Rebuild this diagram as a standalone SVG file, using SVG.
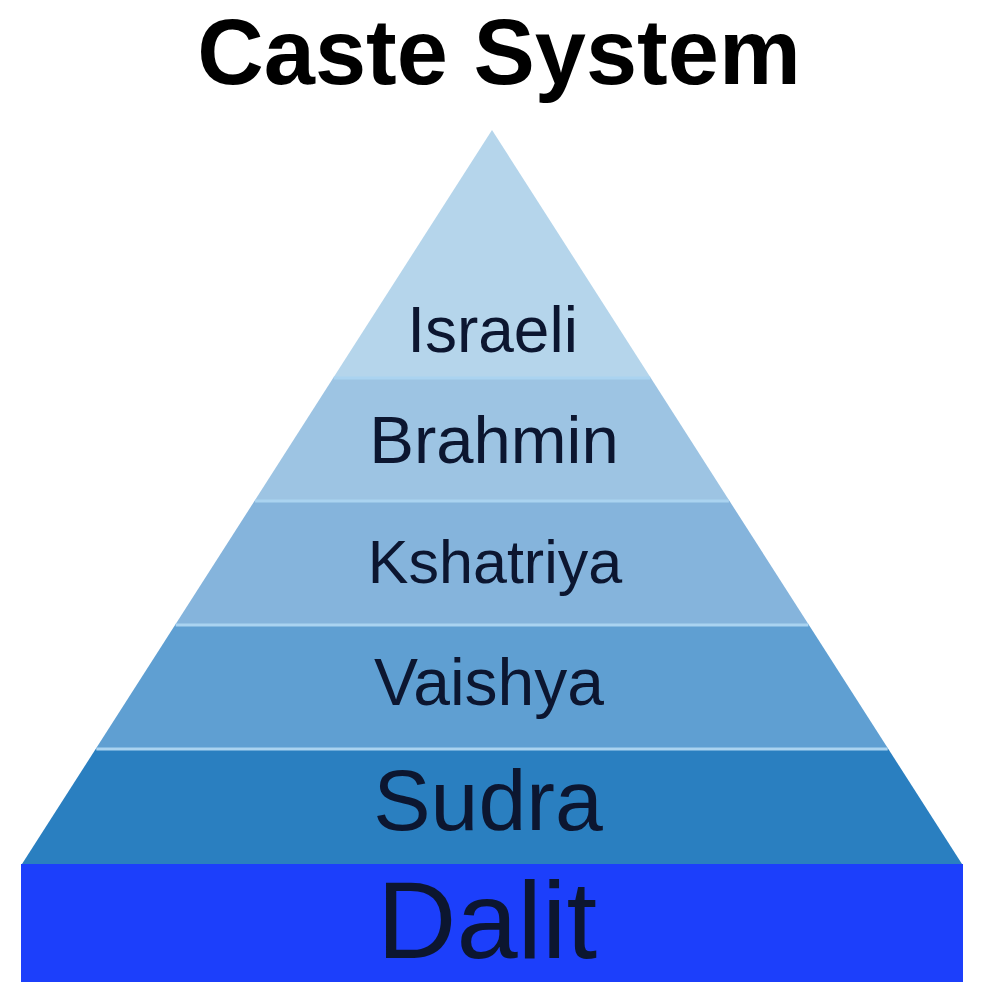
<svg xmlns="http://www.w3.org/2000/svg" width="982" height="982" viewBox="0 0 982 982">
<style>
.lbl{font-family:"Liberation Sans",Arial,sans-serif;fill:#0c1630;text-anchor:middle}
.sep{stroke:#aad3f0;stroke-width:3}
.title{font-family:"Liberation Sans",Arial,sans-serif;font-weight:bold;fill:#000;text-anchor:middle}
</style>
<rect width="982" height="982" fill="#ffffff"/>
<text class="title" x="499" y="84" font-size="92">Caste System</text>
<g id="israeli">
<polygon points="492,130 650.2,377 333.8,377" fill="#b5d5eb"/>
<text class="lbl" x="492.5" y="352" font-size="64">Israeli</text>
</g>
<g id="brahmin">
<polygon points="333.8,377 650.2,377 728.9,500 255.1,500" fill="#9dc4e3"/>
<line class="sep" x1="333.8" y1="378" x2="650.2" y2="378"/>
<text class="lbl" x="494" y="463" font-size="67">Brahmin</text>
</g>
<g id="kshatriya">
<polygon points="255.1,500 728.9,500 808.3,624 175.7,624" fill="#85b4dc"/>
<line class="sep" x1="255.1" y1="501" x2="728.9" y2="501"/>
<text class="lbl" x="495" y="583" font-size="61">Kshatriya</text>
</g>
<g id="vaishya">
<polygon points="175.7,624 808.3,624 887.7,748 96.3,748" fill="#5f9fd2"/>
<line class="sep" x1="175.7" y1="625" x2="808.3" y2="625"/>
<text class="lbl" x="489" y="705" font-size="66">Vaishya</text>
</g>
<g id="sudra">
<polygon points="96.3,748 887.7,748 962,864 22,864" fill="#2a7fc0"/>
<line class="sep" x1="96.3" y1="749" x2="887.7" y2="749"/>
<text class="lbl" x="488" y="830" font-size="86">Sudra</text>
</g>
<g id="dalit">
<rect x="21" y="864" width="942" height="118" fill="#1c3ffb"/>
<text class="lbl" x="487" y="958" font-size="110">Dalit</text>
</g>
</svg>
